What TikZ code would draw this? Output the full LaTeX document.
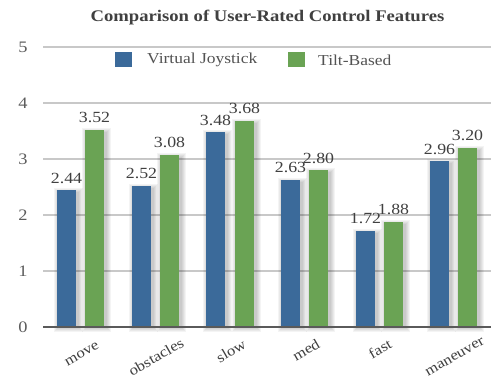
\documentclass[tikz,border=0pt]{standalone}
\usepackage{fontspec}
\setmainfont{Liberation Serif}[FakeStretch=1.15]
\definecolor{barblue}{HTML}{3B6A9A}
\definecolor{bargreen}{HTML}{6AA354}
\definecolor{txt}{HTML}{404040}
\definecolor{gridc}{HTML}{C8C8C8}
\definecolor{axisc}{HTML}{5A5A5A}
\tikzset{
  lab/.style={text=txt, inner sep=0pt, font=\fontsize{15.5}{17}\selectfont},
  legtext/.style={text=txt!90, inner sep=0pt, font=\fontsize{15.2}{17}\selectfont},
  ticklab/.style={text=txt!85, inner sep=0pt, font=\fontsize{16}{18}\selectfont},
  catlab/.style={text=txt, inner sep=0pt, rotate=30, font=\fontsize{14.5}{17}\selectfont},
  gridline/.style={draw=gridc, line width=1.1pt},
}
\newcommand\chartbar[4]{% name, center x, value, colour
  \foreach \k in {1,...,5}{
    \fill[black, opacity=0.045] ({#2-9.5-\k+2}, {327+\k}) rectangle ({#2+9.5+\k+2}, {327-56*#3-\k+3});
  }
  \fill[#4] ({#2-9.5}, 327) rectangle coordinate (#1) ({#2+9.5}, {327-56*#3});
  \node[lab] (#1v) at (#2, {327-56*#3-12}) {#3};
}
\begin{document}
\begin{tikzpicture}[x=1pt, y=-1pt]
\useasboundingbox (0,0) rectangle (493,377);
\fill[white] (0,0) rectangle (493,377);
\node[text=txt, inner sep=0pt, font=\fontsize{16.2}{20}\selectfont\bfseries] (title) at (267.5,18) {Comparison of User-Rated Control Features};
% grid
\foreach \v in {1,...,5}{
  \draw[gridline] (43, {327-56*\v}) -- (491, {327-56*\v});
}
\foreach \v in {0,...,5}{
  \node[ticklab] (tick\v) at (23, {327-56*\v}) {\v};
}
% legend
\fill[barblue] (115,52.3) rectangle (131.7,66.7);
\node[legtext, anchor=west] (legA) at (147,60) {Virtual Joystick};
\fill[bargreen] (288,52.3) rectangle (305,66.7);
\node[legtext, anchor=west] (legB) at (318,60) {Tilt-Based};
% bars
\chartbar{b1}{66.5}{2.44}{barblue}
\chartbar{g1}{94.5}{3.52}{bargreen}
\chartbar{b2}{141.5}{2.52}{barblue}
\chartbar{g2}{169.5}{3.08}{bargreen}
\chartbar{b3}{215.5}{3.48}{barblue}
\chartbar{g3}{244.5}{3.68}{bargreen}
\chartbar{b4}{290.5}{2.63}{barblue}
\chartbar{g4}{318.5}{2.80}{bargreen}
\chartbar{b5}{365.5}{1.72}{barblue}
\chartbar{g5}{393.5}{1.88}{bargreen}
\chartbar{b6}{439.5}{2.96}{barblue}
\chartbar{g6}{467.5}{3.20}{bargreen}
% axis
\draw[draw=axisc, line width=1.2pt] (43,327) -- (491,327);
% category labels
\node[catlab] (c1) at (82,354) {move};
\node[catlab] (c2) at (156,357) {obstacles};
\node[catlab] (c3) at (231,351) {slow};
\node[catlab] (c4) at (306,350) {med};
\node[catlab] (c5) at (380,349) {fast};
\node[catlab] (c6) at (455,357) {maneuver};
\end{tikzpicture}
\end{document}
